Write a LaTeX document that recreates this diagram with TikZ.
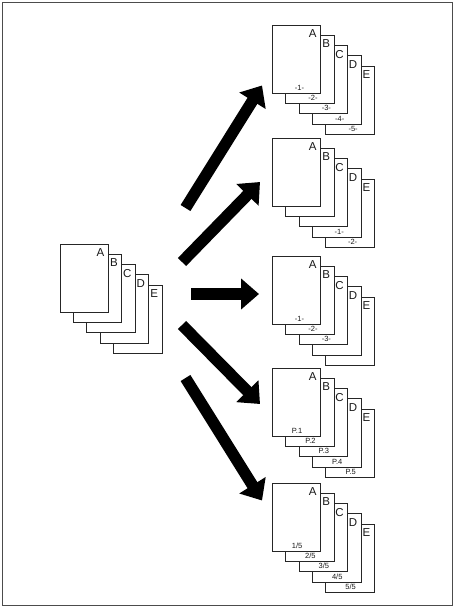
\documentclass[tikz,border=0pt]{standalone}
\usepackage{fontspec}
\newfontfamily\hv{Liberation Sans}
\usetikzlibrary{arrows.meta,calc}
\tikzset{
  pagebox/.style={draw=black!85, line width=0.9pt, fill=white, inner sep=0pt, outer sep=0pt,
    minimum width=48.5pt, minimum height=68.3pt, anchor=north west},
  letter/.style={anchor=base, inner sep=0pt, font=\hv\fontsize{11.5}{12}\selectfont, text=black!90},
  pnum/.style={anchor=base, inner sep=0pt, font=\hv\fontsize{7.5}{8}\selectfont, text=black!90},
  bigarrow/.style={line width=11.5pt, -{Triangle[length=18pt,width=30pt]}},
  frame/.style={draw=black!70, line width=1pt}
}
\newcommand\pstack[3]{%
  \foreach \k/\L in {4/E,3/D,2/C,1/B,0/A}{
    \node[pagebox] (#1p\k) at ({#2+\k*13.4},{#3+\k*10.3}) {};
    \node[letter] (#1l\k) at ($(#1p\k.north east)+(-8,12.6)$) {\L};
  }}
\begin{document}
\begin{tikzpicture}[x=1pt,y=-1pt]
\useasboundingbox (0,0) rectangle (454,607);
\draw[frame] (2.5,2.5) rectangle (452.5,605.5);
% left stack
\pstack{L}{60}{244}
% right stacks
\pstack{S}{272.3}{25}
\pstack{T}{272.3}{138}
\pstack{U}{272.3}{256}
\pstack{V}{272.3}{368}
\pstack{W}{272.3}{483}
% labels stack 1
\foreach \k/\t in {0/-1-,1/-2-,2/-3-,3/-4-,4/-5-}{
  \node[pnum] (Sn\k) at ($(Sp\k.south)+(3,-3)$) {\t};
}
% labels stack 2
\node[pnum] (Tn3) at ($(Tp3.south)+(2.5,-3)$) {-1-};
\node[pnum] (Tn4) at ($(Tp4.south)+(2.5,-3)$) {-2-};
% labels stack 3
\foreach \k/\t in {0/-1-,1/-2-,2/-3-}{
  \node[pnum] (Un\k) at ($(Up\k.south)+(3,-3)$) {\t};
}
% labels stack 4
\foreach \k/\t in {0/P.1,1/P.2,2/P.3,3/P.4,4/P.5}{
  \node[pnum] (Vn\k) at ($(Vp\k.south)+(0.5,-3)$) {\t};
}
% labels stack 5
\foreach \k/\t in {0/1\slash 5,1/2\slash 5,2/3\slash 5,3/4\slash 5,4/5\slash 5}{
  \node[pnum] (Wn\k) at ($(Wp\k.south)+(0.5,-3)$) {\t};
}
% arrows
\coordinate (t1) at (185.5,208);  \coordinate (h1) at (262,85.5);
\coordinate (t2) at (182,262);    \coordinate (h2) at (260,182);
\coordinate (t3) at (191,294);    \coordinate (h3) at (259,294);
\coordinate (t4) at (182,325);    \coordinate (h4) at (260,404);
\coordinate (t5) at (185.5,378);  \coordinate (h5) at (262,500.5);
\foreach \i in {1,...,5}{\draw[bigarrow] (t\i) -- (h\i);}
\end{tikzpicture}
\end{document}
